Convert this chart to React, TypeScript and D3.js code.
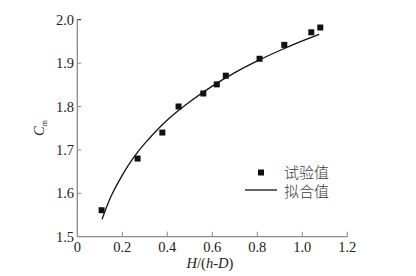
import React from "react";
import * as d3 from "d3";

const xTicks = [0, 0.2, 0.4, 0.6, 0.8, 1.0, 1.2];
const yTicks = [1.5, 1.6, 1.7, 1.8, 1.9, 2.0];
const testX = [0.108, 0.268, 0.378, 0.45, 0.56, 0.62, 0.66, 0.81, 0.92, 1.04, 1.08];
const testY = [1.561, 1.68, 1.74, 1.80, 1.83, 1.851, 1.871, 1.91, 1.942, 1.971, 1.982];
const fitX = [0.11, 0.15, 0.2, 0.25, 0.3, 0.4, 0.5, 0.6, 0.7, 0.8, 0.9, 1.0, 1.075];
const fitY = [1.540, 1.593, 1.642, 1.682, 1.715, 1.769, 1.811, 1.847, 1.878, 1.905, 1.929, 1.951, 1.966];
const legendLabels = ["试验值", "拟合值"];

export default function App() {
  const x = d3.scaleLinear().domain([0, 1.2]).range([77.3, 347.3]);
  const y = d3.scaleLinear().domain([1.5, 2.0]).range([236.7, 19.7]);
  const axisColor = "#8a8a8a";
  const serif = "'Liberation Serif', 'DejaVu Serif', serif";
  const line = d3
    .line<number>()
    .x((_, i) => x(fitX[i]))
    .y((d) => y(d))
    .curve(d3.curveCatmullRom);
  return (
    <svg
      width={416}
      height={276}
      style={{ position: "absolute", left: 0, top: 0, background: "#fff" }}
    >
      {/* axes */}
      <line x1={x(0)} x2={x(1.2)} y1={y(1.5)} y2={y(1.5)} stroke={axisColor} strokeWidth={1.3} />
      <line x1={x(0)} x2={x(0)} y1={y(1.5)} y2={y(2.0)} stroke={axisColor} strokeWidth={1.3} />
      {xTicks.map((t) => (
        <g key={"x" + t}>
          {t > 0 && (
            <line x1={x(t)} x2={x(t)} y1={y(1.5)} y2={y(1.5) - 5} stroke={axisColor} strokeWidth={1} />
          )}
          <text
            x={x(t)}
            y={252}
            textAnchor="middle"
            fontFamily={serif}
            fontSize={14.5}
            fill="#222"
          >
            {t === 0 ? "0" : d3.format(".1f")(t)}
          </text>
        </g>
      ))}
      {yTicks.map((t) => (
        <g key={"y" + t}>
          {t > 1.5 && (
            <line x1={x(0)} x2={x(0) + 4} y1={y(t)} y2={y(t)} stroke={t === 2.0 ? "#222" : axisColor} strokeWidth={1} />
          )}
          <text
            x={74}
            y={y(t) + 5}
            textAnchor="end"
            fontFamily={serif}
            fontSize={14.5}
            fill="#222"
          >
            {d3.format(".1f")(t)}
          </text>
        </g>
      ))}
      {/* axis titles */}
      <text
        x={210}
        y={268}
        textAnchor="middle"
        fontFamily={serif}
        fontSize={14.5}
        fill="#222"
      >
        <tspan fontStyle="italic">H</tspan>
        <tspan>/(</tspan>
        <tspan fontStyle="italic">h</tspan>
        <tspan>-</tspan>
        <tspan fontStyle="italic">D</tspan>
        <tspan>)</tspan>
      </text>
      <text
        transform="translate(44,136) rotate(-90)"
        fontFamily={serif}
        fontSize={14.5}
        fill="#222"
      >
        <tspan fontStyle="italic">C</tspan>
        <tspan fontSize={8} dy={3}>m</tspan>
      </text>
      {/* fit line */}
      <path d={line(fitY) || ""} fill="none" stroke="#111" strokeWidth={1.3} />
      {/* test points */}
      {testX.map((v, i) => (
        <rect key={"p" + i} x={x(v) - 3} y={y(testY[i]) - 3} width={6} height={6} fill="#111" />
      ))}
      {/* legend */}
      <rect x={258} y={169.5} width={6} height={6} fill="#111" />
      <line x1={245} x2={277} y1={190} y2={190} stroke="#111" strokeWidth={1.3} />
      <text x={284} y={178} fontFamily="'Noto Sans CJK SC', sans-serif" fontSize={15} fontWeight={300} fill="#3a3a3a">
        {legendLabels[0]}
      </text>
      <text x={284} y={197} fontFamily="'Noto Sans CJK SC', sans-serif" fontSize={15} fontWeight={300} fill="#3a3a3a">
        {legendLabels[1]}
      </text>
    </svg>
  );
}
